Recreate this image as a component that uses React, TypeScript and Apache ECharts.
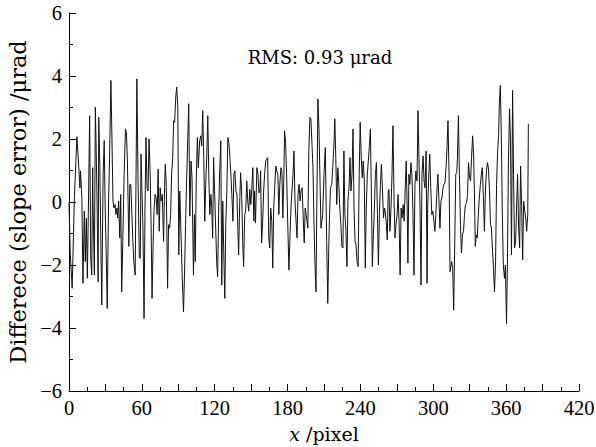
import React, { useEffect, useRef } from "react";
import * as echarts from "echarts";

// x (pixel) and slope-error difference (μrad)
const profile: [number, number][] = [
  [0, 0.0], [1.0, -1.6], [2.6, -2.74], [4.5, 0.2], [6.5, 2.07], [8.1, 1.09], [9.0, 0.45], [9.5, 0.99],
  [10.6, 0.13], [11.5, -2.58], [12.6, -0.29], [13.4, -1.89], [14.3, -0.51], [15.1, -2.42], [15.9, -0.4],
  [17.0, 2.74], [17.9, -1.78], [18.7, -2.32], [19.5, 1.09], [19.8, -0.03], [20.9, -2.32], [21.7, 3.01],
  [22.6, 1.2], [23.1, 0.03], [24.0, -2.53], [24.5, 2.69], [25.4, 1.09], [26.2, -1.25], [27.0, -3.27],
  [28.1, 0.88], [29.0, 1.95], [29.8, -0.19], [30.6, -1.57], [31.5, -3.38], [32.6, 0.03], [33.4, 1.41],
  [34.5, 3.86], [35.4, 1.94], [36.2, 0.03], [37.0, -0.19], [37.9, -0.08], [38.7, -0.4], [39.5, -0.19],
  [40.1, -0.51], [40.9, 0.03], [41.8, -1.14], [42.6, 0.24], [43.4, -2.85], [44.3, -1.25], [45.4, 0.88],
  [46.5, 2.32], [47.3, 2.21], [48.1, 1.3], [49.3, -1.41], [50.1, 0.56], [50.9, 0.56], [51.8, -0.4],
  [52.6, -1.25], [53.4, -1.89], [54.5, -2.32], [55.9, 3.91], [56.8, 0.88], [57.9, -1.78], [58.7, -1.78],
  [59.3, 1.52], [60.1, 0.35], [60.9, -0.83], [61.8, -3.7], [62.6, -0.19], [63.4, 2.05], [64.3, 0.45],
  [65.1, 0.35], [65.9, 2.0], [66.8, 0.99], [67.6, -0.72], [68.4, -3.06], [69.3, -1.25], [70.1, -0.19],
  [70.9, 0.24], [71.8, 0.13], [72.6, -0.4], [73.4, 1.04], [74.3, -0.93], [75.1, 0.45], [75.9, 0.03],
  [76.8, 0.24], [77.9, -1.25], [78.7, 0.45], [79.3, 1.2], [80.1, 0.56], [81.2, -2.74], [82.0, -0.72],
  [82.9, -0.83], [83.7, -0.4], [84.5, 0.88], [85.4, 1.41], [86.2, 2.58], [87.0, 2.53], [87.9, 3.33],
  [88.7, 3.65], [89.6, 3.01], [90.4, -1.68], [91.2, 0.35], [92.1, -0.83], [93.2, -2.32], [94.3, -3.49],
  [95.1, -2.32], [96.0, -0.72], [96.8, 0.61], [98.6, 3.12], [99.5, -0.45], [100.5, 1.3], [101.3, 0.77],
  [102.5, -2.32], [103.3, -0.4], [104.0, -1.89], [104.8, 0.67], [105.7, 2.05], [106.5, 1.09], [107.6, 1.94],
  [108.5, 2.1], [109.3, 1.78], [110.1, 2.9], [111.0, 1.41], [111.8, -0.61], [112.6, 0.56], [113.5, 1.52],
  [114.3, 2.74], [115.1, 0.88], [116.0, -0.4], [116.8, 0.24], [117.6, -0.19], [118.3, -1.14], [119.1, 1.41],
  [119.9, 0.35], [120.8, -0.83], [121.6, -1.89], [122.4, -2.37], [123.3, -0.19], [124.1, 0.99], [125.0, 1.94],
  [125.8, -2.64], [126.6, 0.03], [127.5, -1.68], [128.3, -3.06], [129.1, -0.72], [130.0, 0.35], [130.8, 2.05],
  [131.6, 1.89], [132.5, 1.41], [133.3, 0.88], [134.1, 0.24], [135.0, -0.61], [135.8, 0.88], [136.6, 0.99],
  [137.5, 0.35], [138.3, 0.24], [139.1, -0.93], [139.7, -1.68], [140.5, -0.19], [141.3, 0.93], [142.2, 0.35],
  [143.0, -1.25], [143.8, -2.05], [144.7, -0.4], [145.5, -0.29], [146.4, 0.67], [147.2, 0.03], [148.0, -0.29],
  [148.9, 0.4], [149.7, -0.08], [150.5, 0.4], [151.4, 1.09], [152.2, -0.61], [152.8, 0.35], [153.6, -0.67],
  [154.7, 1.09], [155.6, 0.88], [156.4, 0.29], [157.3, 0.4], [157.8, 0.99], [158.6, -1.3], [159.5, -0.61],
  [160.3, 0.35], [161.1, 0.88], [162.0, 1.3], [162.8, 1.36], [163.6, 1.41], [164.5, -1.14], [165.3, -1.46],
  [166.1, -0.19], [167.0, -0.61], [167.8, -2.1], [168.6, -0.19], [169.5, 0.56], [170.3, 1.14], [171.1, 0.99],
  [172.0, 0.88], [172.8, -0.4], [173.6, 0.56], [174.5, 1.09], [175.3, 0.99], [176.1, -0.51], [177.0, 0.88],
  [177.5, 2.26], [178.4, 1.89], [179.2, 0.88], [180.3, -0.93], [181.1, -2.16], [182.0, -1.04], [182.8, -0.19],
  [183.6, 0.35], [184.5, 0.88], [185.3, 1.62], [186.1, 0.03], [187.0, -0.61], [187.8, -1.14], [188.6, 0.24],
  [189.5, 0.56], [190.3, 0.03], [191.1, 0.35], [192.0, 0.45], [192.8, -0.4], [193.7, -1.3], [194.5, -0.19],
  [195.3, -0.4], [196.2, -0.67], [196.7, -0.83], [197.5, 1.62], [198.4, 2.69], [199.2, 2.64], [200.0, 1.94],
  [200.9, 1.09], [201.7, -0.51], [202.5, -1.89], [203.4, -2.85], [204.2, 0.35], [205.0, 3.27], [205.9, 2.26],
  [207.5, -0.83], [208.9, -0.4], [210.0, 0.88], [211.1, 1.73], [212.2, -1.25], [213.1, -3.22], [214.2, -0.93],
  [215.3, 0.45], [216.4, 0.56], [217.2, 1.09], [218.3, 1.94], [218.9, 2.64], [219.7, 1.41], [220.5, -0.08],
  [221.4, 1.09], [222.2, 0.56], [223.0, -0.19], [223.9, -0.72], [224.7, -1.41], [225.6, -1.46], [226.4, 1.62],
  [227.2, -0.4], [228.1, -0.93], [228.9, -2.05], [229.7, 0.03], [230.6, 0.45], [231.4, 1.41], [232.2, 0.35],
  [233.1, 0.88], [233.9, 2.32], [234.7, -0.19], [235.6, -1.25], [236.4, -1.36], [237.2, -1.89], [238.1, -2.05],
  [239.0, 0.88], [239.8, 2.53], [240.7, 1.41], [241.5, 0.77], [242.3, 1.3], [243.2, 0.67], [244.0, -2.1],
  [244.8, -0.19], [245.7, 0.88], [246.5, 1.3], [247.3, 1.73], [248.2, 2.32], [249.0, 0.35], [249.8, -2.05],
  [250.7, -1.04], [251.5, -0.19], [252.3, 0.88], [253.2, 1.25], [254.0, -0.4], [254.8, -2.0], [255.7, -0.29],
  [256.5, 0.56], [257.3, 1.2], [258.2, 0.35], [259.0, -0.51], [259.8, -0.19], [260.4, -0.29], [261.2, -0.61],
  [262.1, -1.2], [262.9, 0.35], [263.5, 0.4], [264.3, -0.93], [265.2, -0.19], [266.0, 0.88], [266.8, 2.42],
  [267.7, 0.03], [268.5, -1.14], [269.3, -0.72], [270.2, -0.4], [271.0, 0.24], [271.8, -0.61], [272.7, -2.32],
  [273.5, -0.19], [274.3, -0.51], [275.2, -0.08], [276.0, -0.61], [276.8, 0.35], [277.7, 1.3], [278.5, -0.19],
  [279.1, -1.94], [279.9, 0.88], [280.7, 0.56], [281.6, 1.25], [282.4, 0.88], [283.2, -0.19], [284.1, -2.32],
  [284.9, 0.56], [285.7, 0.99], [286.6, 0.67], [287.4, 2.9], [288.2, 1.41], [289.1, -0.19], [289.9, -2.64],
  [290.7, 0.88], [291.6, 1.46], [292.4, 0.67], [293.2, 0.45], [294.1, 1.62], [294.9, -2.58], [295.4, -0.19],
  [296.3, 0.88], [297.1, 1.52], [297.9, 0.45], [298.8, -0.4], [299.6, -0.29], [300.5, -0.61], [301.3, -0.93],
  [302.1, -0.4], [303.0, 0.35], [303.8, 0.88], [304.6, 0.13], [305.5, -0.83], [306.3, 0.03], [307.1, 0.13],
  [308.0, 0.45], [308.8, 0.56], [309.6, 0.61], [310.5, 1.09], [311.3, 1.73], [312.1, 2.58], [313.0, 0.88],
  [313.8, -2.21], [315.1, -1.89], [316.0, -2.1], [316.8, -3.43], [317.7, -1.25], [318.5, 0.88], [319.3, 0.93],
  [319.9, 1.41], [320.7, 2.74], [321.5, 0.88], [322.4, -0.72], [323.2, -1.62], [324.0, -1.04], [324.9, -0.93],
  [325.7, -0.4], [326.5, -0.08], [327.4, -0.03], [328.2, 0.24], [329.0, 1.25], [329.9, 0.77], [330.7, 0.67],
  [331.5, 1.41], [332.4, 2.1], [333.2, 1.52], [334.0, 0.03], [334.6, -1.41], [335.4, -1.04], [336.2, -1.14],
  [337.1, -0.4], [337.9, 0.13], [338.8, 0.56], [339.6, 0.88], [340.4, 1.09], [341.3, 0.13], [342.1, -0.93],
  [342.9, 0.35], [343.8, 0.99], [344.6, 1.25], [345.4, 1.09], [346.3, 0.35], [347.1, -0.72], [347.9, -0.83],
  [348.8, -1.57], [349.6, -2.1], [350.4, -2.85], [351.3, -1.89], [352.1, 0.56], [352.9, 1.52], [353.8, 2.15],
  [354.4, 3.12], [355.2, 3.7], [356.1, 1.94], [356.9, -0.51], [357.7, -2.0], [358.6, -2.42], [359.4, -2.0],
  [360.3, -3.86], [361.1, -1.78], [361.9, 1.3], [362.8, 2.96], [363.6, 1.94], [364.4, -1.68], [365.3, 3.54],
  [366.1, 0.88], [366.9, -1.46], [367.8, -1.25], [368.6, -0.19], [369.4, 0.88], [370.3, -0.83], [371.1, -1.46],
  [371.9, 1.14], [372.8, -0.19], [373.6, -1.84], [374.4, 0.03], [375.3, -0.29], [376.1, -0.51], [376.9, -0.93],
  [377.8, -0.4], [378.3, 2.48],
];

const xRange = { min: 0, max: 420, step: 30, labelStep: 60 };
const yRange = { min: -6, max: 6, step: 2 };
const xTitle = "/pixel";
const yTitle = "Differece (slope error) /\u03bcrad";
const rmsText = "RMS: 0.93 \u03bcrad";

const TICK_FONT = "'Liberation Serif', 'Times New Roman', serif";
const TITLE_FONT = "'DejaVu Serif', 'Liberation Serif', serif";

export default function App() {
  const ref = useRef<HTMLDivElement>(null);
  useEffect(() => {
    document.body.style.margin = "0";
    if (!ref.current) return;
    const chart = echarts.init(ref.current, undefined, { renderer: "svg" });
    const axisCommon = {
      axisLine: { show: true, onZero: false, lineStyle: { color: "#000", width: 1 } },
      axisTick: { show: true, inside: true, length: 7, lineStyle: { color: "#000", width: 1 } },
      minorTick: { show: true, splitNumber: 2, length: 4, lineStyle: { color: "#000", width: 1 } },
      splitLine: { show: false },
      minorSplitLine: { show: false },
    };
    chart.setOption({
      animation: false,
      backgroundColor: "#fff",
      grid: { left: 69, right: 17, top: 13, bottom: 56, containLabel: false, outerBoundsMode: "none" },
      xAxis: {
        type: "value",
        min: xRange.min,
        max: xRange.max,
        interval: xRange.step,
        ...axisCommon,
        axisLabel: {
          color: "#000",
          fontFamily: TICK_FONT,
          fontSize: 20.5,
          margin: 6,
          formatter: (v: number) => (v % xRange.labelStep === 0 ? String(v) : ""),
        },
        name: "{i|x} " + xTitle,
        nameLocation: "middle",
        nameGap: 33,
        nameTextStyle: {
          color: "#000",
          fontFamily: TITLE_FONT,
          fontSize: 19,
          rich: { i: { fontStyle: "italic", fontFamily: TITLE_FONT, fontSize: 19, color: "#000" } },
        },
      },
      yAxis: {
        type: "value",
        min: yRange.min,
        max: yRange.max,
        interval: yRange.step,
        ...axisCommon,
        axisLabel: {
          color: "#000",
          fontFamily: TICK_FONT,
          fontSize: 20.5,
          margin: 7,
          formatter: (v: number) => String(v).replace("-", "\u2212"),
        },
        name: yTitle,
        nameLocation: "middle",
        nameGap: 39,
        nameRotate: 90,
        nameTextStyle: { color: "#000", fontFamily: TITLE_FONT, fontSize: 22.5 },
      },
      graphic: [
        {
          type: "text",
          x: 320,
          y: 57,
          style: {
            text: rmsText,
            fill: "#000",
            font: "18px " + TITLE_FONT,
            textAlign: "center",
            textVerticalAlign: "middle",
          },
        },
      ],
      series: [
        {
          type: "line",
          data: profile,
          showSymbol: false,
          symbol: "none",
          lineStyle: { color: "#111", width: 1 },
        },
      ],
    });
    return () => chart.dispose();
  }, []);
  return <div ref={ref} style={{ width: 596, height: 447 }} />;
}
